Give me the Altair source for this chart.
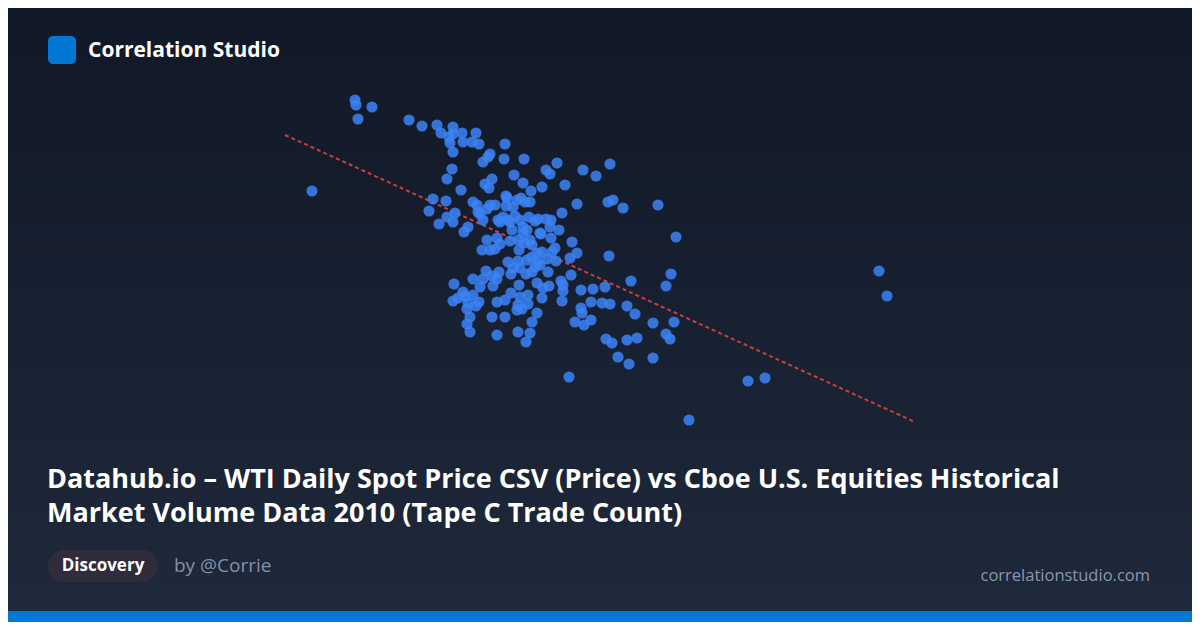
import altair as alt
import pandas as pd

# WTI spot price (x) vs Tape C trade count (y)
price = [35.5, 35.6, 37.2, 35.8, 31.2,
         40.9, 42.2, 43.7, 45.3, 44.1, 44.9, 45.3, 46.2, 47.6, 46.3, 47.2, 47.9, 45.0, 45.3, 50.5,
         49.0, 48.8, 48.3, 50.4, 52.4, 55.7, 45.2, 44.7, 49.2, 51.4, 54.6, 55.0, 58.3, 59.6, 61.0,
         48.5, 48.9, 52.3, 54.2, 56.5, 53.1, 50.6, 46.1,
         43.3, 44.6, 42.9, 45.5, 44.7, 45.3, 43.9, 46.4, 46.8, 47.3, 47.7, 48.0, 48.7, 49.0, 49.5,
         49.8, 50.3, 50.8, 50.6, 50.7, 51.3, 51.5, 52.0, 52.1, 52.5, 53.0, 51.7, 52.9, 53.8, 54.6,
         55.1, 55.0, 55.9, 56.2, 57.7, 60.8, 61.3, 62.3, 65.8, 67.6, 48.3, 50.0, 51.0, 52.3, 53.5,
         54.0, 47.8, 48.7, 48.2, 49.5, 49.7, 50.0, 51.2, 51.0, 51.8, 51.9, 52.3, 52.7, 52.4, 53.0,
         54.1, 55.1, 55.5, 53.2, 53.7, 54.2, 54.7, 55.2, 55.6, 57.2, 57.7, 57.0, 60.9, 53.2, 49.0,
         50.8, 51.8, 52.7, 53.8,
         51.3, 52.0, 52.6, 54.0, 54.8, 53.5, 53.2, 49.9, 48.6, 47.3, 49.2, 49.7, 51.1, 56.1, 56.3,
         57.1, 45.4, 48.3, 48.0, 49.3, 51.9, 52.8, 53.7, 54.3, 54.9, 56.3, 58.1, 59.3, 60.5, 63.1,
         67.1, 66.6, 46.3, 46.5, 47.3, 45.3, 45.8, 46.8, 47.9, 46.7, 47.6, 49.7, 50.5, 51.1, 52.0,
         51.8, 52.8, 54.2, 56.2, 51.7, 52.2, 53.7, 47.0, 49.2, 50.5, 53.2, 46.7, 47.0, 49.7, 51.8,
         53.0, 52.6, 58.1, 58.2, 59.1, 60.2, 61.0, 59.1, 57.5, 58.4, 62.7, 63.5, 65.3, 67.4, 60.6,
         61.2, 62.7, 63.7, 66.6, 67.0, 61.8, 62.9, 65.3, 56.9, 74.8, 76.5, 68.9, 87.9, 88.7]

trades = [40.0, 39.5, 39.3, 38.1, 30.9,
          38.0, 37.4, 37.5, 37.3, 36.7, 36.3, 36.6, 36.7, 36.7, 35.8, 35.8, 35.6, 35.7, 34.8, 35.6,
          34.6, 34.3, 33.8, 34.1, 34.1, 33.7, 33.1, 32.1, 32.1, 32.5, 33.0, 32.6, 33.0, 32.4, 33.6,
          31.6, 31.2, 31.7, 31.3, 31.5, 30.9, 30.4, 31.0,
          30.1, 29.9, 28.9, 28.7, 28.3, 27.8, 27.6, 26.8, 27.3, 29.8, 29.5, 28.6, 29.1, 29.5, 29.5,
          28.0, 28.3, 28.0, 29.4, 30.2, 29.3, 28.4, 28.0, 30.2, 29.8, 29.8, 30.0, 28.3, 28.1, 28.1,
          28.0, 27.3, 27.0, 28.7, 29.6, 29.8, 30.0, 29.2, 29.5, 26.3, 28.0, 27.8, 27.8, 27.3, 27.9,
          26.7, 28.8, 26.0, 25.0, 25.1, 26.2, 25.6, 27.0, 25.9, 26.0, 25.0, 26.7, 27.0, 25.7, 26.0,
          26.6, 26.2, 25.2, 24.3, 24.7, 24.8, 24.1, 24.8, 23.9, 25.8, 24.7, 24.2, 24.4, 25.5, 25.0,
          23.8, 23.9, 24.0, 23.8,
          23.2, 23.2, 22.6, 23.5, 22.8, 23.3, 22.8, 22.8, 22.9, 22.1, 22.4, 22.1, 22.6, 21.9, 21.5,
          22.5, 21.6, 22.1, 21.3, 21.4, 21.5, 20.5, 21.7, 21.2, 21.4, 20.9, 21.0, 21.1, 21.3, 21.9,
          22.6, 21.4, 20.8, 20.4, 20.5, 19.9, 20.2, 19.7, 19.8, 19.1, 19.4, 19.8, 20.0, 20.7, 20.3,
          19.5, 19.6, 20.2, 19.9, 19.0, 19.1, 18.7, 18.3, 18.3, 18.3, 17.8, 17.6, 16.8, 16.5, 16.8,
          16.7, 15.8, 19.2, 18.7, 19.8, 19.7, 19.6, 18.0, 17.8, 17.5, 19.4, 18.6, 17.7, 17.8, 16.1,
          15.7, 16.0, 16.2, 16.6, 16.1, 14.3, 13.6, 14.2, 12.3, 11.9, 12.2, 8.0, 22.9, 20.4]

# trend line end points
trend_price = [28.5, 91.5]
trend_trades = [36.5, 7.8]

brand = "Correlation Studio"
title_lines = ["Datahub.io – WTI Daily Spot Price CSV (Price) vs Cboe U.S. Equities Historical",
               "Market Volume Data 2010 (Tape C Trade Count)"]
badge = "Discovery"
author = "by @Corrie"
site = "correlationstudio.com"

W, H = 1184, 614
df = pd.DataFrame({"price": price, "trades": trades})
tdf = pd.DataFrame({"price": trend_price, "trades": trend_trades})

xs = alt.Scale(domain=[0.8, 119.2], nice=False, zero=False)
ys = alt.Scale(domain=[-12.2, 49.2], nice=False, zero=False)

one = pd.DataFrame({"k": [0]})

bg = alt.Chart(one).mark_rect(
    fill=alt.LinearGradient(gradient="linear", x1=0, y1=0, x2=0, y2=1,
                            stops=[alt.GradientStop(color="#111827", offset=0),
                                   alt.GradientStop(color="#1e293b", offset=1)])
).encode(x=alt.value(0), x2=alt.value(W), y=alt.value(0), y2=alt.value(H))

bar = alt.Chart(one).mark_rect(fill="#0078d4").encode(
    x=alt.value(0), x2=alt.value(W), y=alt.value(603), y2=alt.value(H))

logo = alt.Chart(one).mark_rect(fill="#0078d4", cornerRadius=5).encode(
    x=alt.value(40), x2=alt.value(68), y=alt.value(28), y2=alt.value(56))

brand_t = alt.Chart(one).mark_text(
    text=brand, font="Open Sans", fontWeight="bold", fontSize=21, color="#ffffff",
    align="left", baseline="alphabetic").encode(x=alt.value(80), y=alt.value(49))

t1 = alt.Chart(one).mark_text(
    text=title_lines[0], font="Open Sans", fontWeight="bold", fontSize=27, color="#ffffff",
    align="left", baseline="alphabetic").encode(x=alt.value(39), y=alt.value(480))
t2 = alt.Chart(one).mark_text(
    text=title_lines[1], font="Open Sans", fontWeight="bold", fontSize=27, color="#ffffff",
    align="left", baseline="alphabetic").encode(x=alt.value(39), y=alt.value(514))

badge_bg = alt.Chart(one).mark_rect(fill="#302c3b", cornerRadius=16).encode(
    x=alt.value(40), x2=alt.value(150), y=alt.value(542), y2=alt.value(574))
badge_t = alt.Chart(one).mark_text(
    text=badge, font="Open Sans", fontWeight="bold", fontSize=17, color="#ffffff",
    align="center", baseline="middle").encode(x=alt.value(95), y=alt.value(558))
author_t = alt.Chart(one).mark_text(
    text=author, font="Open Sans", fontSize=19, color="#8491a7",
    align="left", baseline="middle").encode(x=alt.value(166), y=alt.value(558))
site_t = alt.Chart(one).mark_text(
    text=site, font="Open Sans", fontSize=16.5, color="#8a97ac",
    align="right", baseline="middle").encode(x=alt.value(1142), y=alt.value(568))

pts = alt.Chart(df).mark_circle(size=125, color="#3b82f6", opacity=0.85).encode(
    x=alt.X("price:Q", scale=xs, axis=None),
    y=alt.Y("trades:Q", scale=ys, axis=None))

trend = alt.Chart(tdf).mark_line(
    color="#e0403f", strokeWidth=2, strokeDash=[4, 3], opacity=0.9).encode(
    x=alt.X("price:Q", scale=xs, axis=None),
    y=alt.Y("trades:Q", scale=ys, axis=None))

chart = alt.layer(bg, bar, logo, brand_t, t1, t2, badge_bg, badge_t, author_t, site_t,
                  trend, pts).properties(
    width=W, height=H, padding=0, autosize=alt.AutoSizeParams(type="none"),
    background="#111827"
).configure_view(stroke=None)

chart.save("out.html", embed_options={"renderer": "svg", "actions": False})
